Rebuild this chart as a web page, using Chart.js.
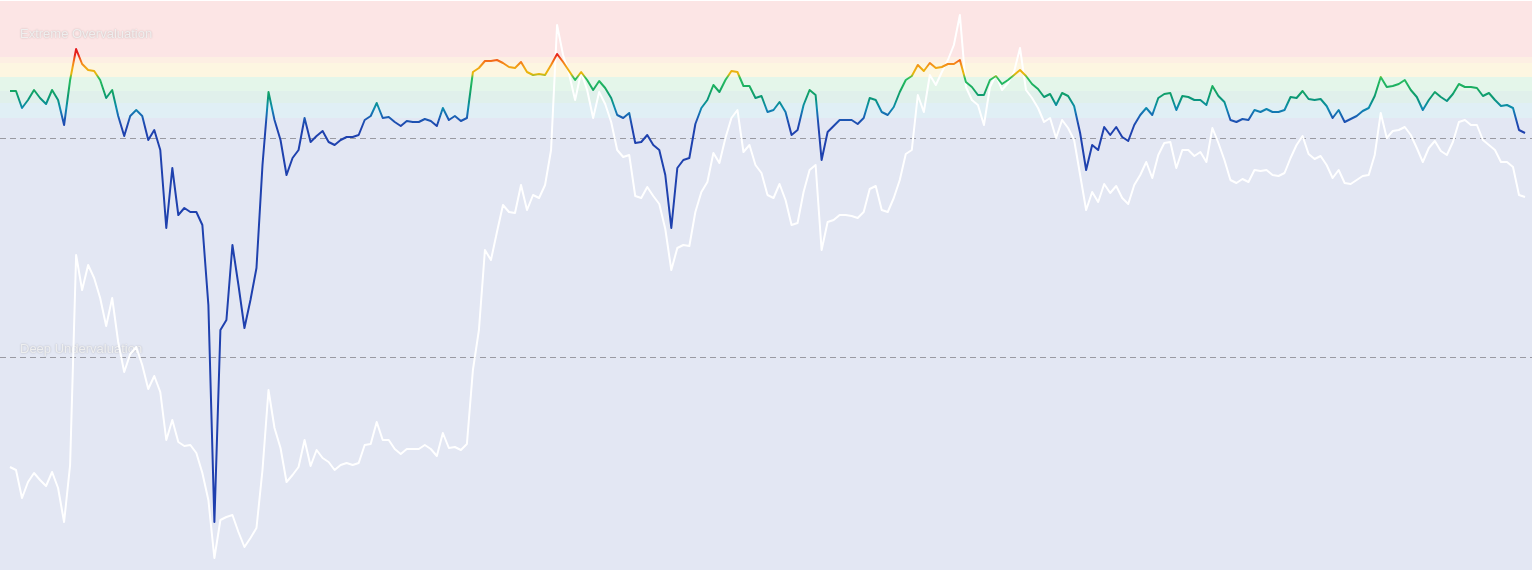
<!DOCTYPE html>
<html>
<head>
<meta charset="utf-8">
<script src="https://cdn.jsdelivr.net/npm/chart.js@4/dist/chart.umd.min.js"></script>
<style>
  html, body { margin: 0; padding: 0; background: #fff; }
  #wrap { width: 1532px; height: 570px; position: relative; }
</style>
</head>
<body>
<div id="wrap"><canvas id="valuationChart"></canvas></div>
<script>
// Valuation score (coloured line), one sample per step
const scoreValues = [
    95.8, 95.8, 92.4, 94.0, 96.0, 94.4, 93.2, 96.0, 94.0, 89.0,
    98.0, 104.2, 101.2, 100.0, 99.8, 98.0, 94.4, 96.0, 90.8, 86.8,
    90.8, 92.0, 90.8, 86.0, 88.0, 84.0, 68.4, 80.4, 71.0, 72.4,
    71.6, 71.6, 69.0, 53.0, 9.6, 48.0, 50.0, 65.0, 57.0, 48.4,
    54.0, 60.4, 81.0, 95.6, 90.0, 86.0, 79.0, 82.4, 84.0, 90.4,
    85.6, 86.8, 87.8, 85.6, 85.0, 86.0, 86.6, 86.6, 87.0, 90.0,
    90.8, 93.4, 90.4, 90.6, 89.6, 88.8, 89.8, 89.6, 89.6, 90.2,
    89.8, 88.8, 92.4, 90.0, 90.8, 89.8, 90.4, 99.6, 100.4, 101.8,
    101.8, 102.0, 101.4, 100.6, 100.4, 101.6, 99.6, 99.0, 99.2, 99.0,
    101.0, 103.2, 101.6, 99.8, 98.0, 99.6, 98.0, 96.0, 97.8, 96.4,
    94.4, 91.0, 90.4, 91.4, 85.4, 85.6, 87.0, 85.0, 84.0, 79.0,
    68.4, 80.4, 82.0, 82.4, 89.2, 92.4, 94.0, 97.0, 95.6, 98.0,
    99.8, 99.6, 96.8, 96.8, 94.4, 94.8, 91.6, 92.0, 93.6, 91.6,
    87.0, 88.0, 93.0, 96.0, 95.0, 82.0, 87.6, 88.8, 90.0, 90.0,
    90.0, 89.2, 90.4, 94.4, 94.0, 91.6, 91.0, 92.6, 95.6, 98.0,
    98.8, 101.0, 99.8, 101.4, 100.4, 100.6, 101.2, 101.2, 102.0, 97.6,
    96.6, 95.0, 95.0, 98.0, 98.8, 97.2, 98.0, 99.0, 100.0, 98.8,
    97.2, 96.2, 94.6, 95.2, 93.0, 95.4, 94.8, 92.8, 87.4, 80.0,
    85.0, 84.0, 88.6, 87.0, 88.6, 86.6, 85.8, 89.0, 91.0, 92.4,
    91.0, 94.4, 95.2, 95.4, 92.0, 94.8, 94.6, 94.0, 94.0, 93.0,
    96.8, 94.8, 93.6, 90.0, 89.6, 90.2, 90.0, 92.0, 91.6, 92.2,
    91.6, 91.6, 92.0, 94.6, 94.4, 95.8, 94.2, 94.0, 94.2, 92.8,
    90.4, 92.0, 89.6, 90.2, 90.8, 91.8, 92.4, 94.8, 98.6, 96.6,
    96.8, 97.2, 98.0, 96.0, 94.6, 92.0, 94.0, 95.6, 94.6, 93.8,
    95.2, 97.2, 96.6, 96.6, 96.4, 94.8, 95.4, 94.0, 92.8, 93.0,
    92.4, 88.0, 87.4
];

// Price (white line), same samples
const priceValues = [
    20.6, 20.0, 14.4, 17.6, 19.4, 18.0, 16.8, 19.6, 16.4, 9.6,
    21.0, 63.0, 56.0, 61.0, 58.4, 54.4, 48.8, 54.4, 45.6, 39.6,
    43.2, 44.6, 41.0, 36.2, 38.8, 35.6, 26.0, 30.0, 25.6, 24.8,
    25.0, 23.4, 19.4, 14.0, 2.4, 10.0, 10.6, 11.0, 7.6, 4.6,
    6.4, 8.4, 20.0, 36.0, 28.4, 24.4, 17.6, 19.0, 20.6, 26.0,
    20.8, 24.0, 22.4, 21.6, 20.0, 21.0, 21.4, 21.0, 21.4, 25.0,
    25.2, 29.6, 26.0, 26.0, 24.2, 23.2, 24.2, 24.2, 24.2, 25.0,
    24.2, 22.8, 27.4, 24.4, 24.6, 24.0, 25.2, 40.0, 48.0, 64.0,
    62.0, 67.6, 73.0, 71.6, 71.4, 77.0, 72.0, 75.0, 74.4, 77.0,
    84.0, 109.0, 103.0, 99.2, 94.0, 99.6, 96.0, 90.4, 95.6, 93.2,
    89.6, 84.0, 82.6, 83.0, 74.8, 74.4, 76.6, 74.8, 73.2, 68.2,
    60.0, 64.4, 65.0, 64.8, 71.6, 75.6, 77.6, 83.4, 81.4, 86.4,
    90.4, 92.0, 83.6, 85.0, 81.0, 79.4, 75.0, 74.4, 77.2, 74.0,
    69.0, 69.4, 75.6, 80.0, 81.0, 64.0, 69.6, 70.0, 71.0, 71.0,
    70.8, 70.4, 71.6, 76.2, 76.8, 72.0, 71.6, 74.4, 78.0, 83.2,
    84.0, 95.0, 91.6, 99.0, 97.0, 99.6, 102.0, 105.0, 111.0, 96.6,
    94.0, 93.0, 89.0, 96.6, 99.0, 96.0, 97.4, 99.6, 104.4, 96.0,
    94.4, 92.4, 89.6, 90.4, 86.4, 90.0, 88.4, 86.0, 79.0, 72.0,
    75.6, 73.6, 77.2, 75.4, 76.8, 74.4, 73.2, 77.0, 79.0, 81.6,
    78.4, 83.0, 85.4, 85.6, 80.4, 84.0, 84.0, 82.8, 83.6, 81.6,
    88.4, 85.4, 82.0, 78.0, 77.4, 78.2, 77.6, 80.0, 79.8, 80.0,
    79.0, 78.8, 79.4, 82.4, 85.0, 86.8, 83.2, 82.2, 82.8, 81.0,
    78.4, 80.0, 77.4, 77.2, 78.0, 78.8, 79.0, 83.0, 91.4, 86.4,
    87.8, 88.0, 88.6, 87.0, 84.4, 81.6, 84.4, 85.8, 83.8, 83.0,
    85.6, 89.6, 90.0, 89.0, 89.0, 86.0, 85.0, 84.0, 81.6, 81.6,
    80.6, 75.0, 74.6
];

// Zone edges (score units, top to bottom) and their fills
const bandEdges = [113.8, 102.6, 101.4, 98.6, 95.8, 93.4, 90.4, 0];
const bandColors = ['#fce5e5', '#fdefe3', '#fdf6e1', '#e4f6ea', '#e0f0eb', '#e0eff5', '#e3e7f3'];

// Threshold lines and zone labels
const thresholdValues = [86.4, 42.6];
const zoneLabels = ['Extreme Overvaluation', 'Deep Undervaluation'];
const zoneLabelValues = [107.2, 44.2];

// Colour ramp of the score line (score -> colour)
const rampValues = [104.0, 103.0, 102.2, 101.4, 100.4, 99.2, 98.4, 96.0, 94.4, 92.4, 90.4, 88.6, 0];
const rampColors = ['#e31a1c', '#e8261c', '#f25a1b', '#f5841a', '#f0a814', '#e8b80a', '#2ac060',
                    '#16a862', '#0a9676', '#0d8cb0', '#1c5cb4', '#1f42ae', '#1f3fae'];

// Build the vertical gradient through the y scale
function scoreGradient(context) {
    const chart = context.chart;
    const area = chart.chartArea;
    if (!area) return '#1f3fae';
    const y = chart.scales.y;
    const g = chart.ctx.createLinearGradient(0, area.top, 0, area.bottom);
    const span = area.bottom - area.top;
    rampValues.forEach((v, i) => {
        const p = (y.getPixelForValue(v) - area.top) / span;
        g.addColorStop(Math.min(1, Math.max(0, p)), rampColors[i]);
    });
    return g;
}

// Background zones, dashed thresholds, labels
const zonePlugin = {
    id: 'zones',
    beforeDatasetsDraw(chart) {
        const { ctx, chartArea: a, scales: { y } } = chart;
        ctx.save();
        for (let i = 0; i < bandColors.length; i++) {
            const top = y.getPixelForValue(bandEdges[i]);
            const bot = y.getPixelForValue(bandEdges[i + 1]);
            ctx.fillStyle = bandColors[i];
            ctx.fillRect(a.left, top, a.right - a.left, bot - top);
        }

        ctx.setLineDash([6, 4]);
        ctx.strokeStyle = '#9a9aa2';
        ctx.lineWidth = 1;
        thresholdValues.forEach(v => {
            const py = Math.round(y.getPixelForValue(v)) + 0.5;
            ctx.beginPath();
            ctx.moveTo(a.left, py);
            ctx.lineTo(a.right, py);
            ctx.stroke();
        });
        ctx.setLineDash([]);

        ctx.font = '13px "Liberation Sans", Arial, sans-serif';
        ctx.textBaseline = 'middle';
        ctx.fillStyle = 'rgba(240,240,240,0.95)';
        ctx.shadowColor = 'rgba(0,0,0,0.25)';
        ctx.shadowBlur = 2;
        zoneLabels.forEach((t, i) => {
            ctx.fillText(t, a.left + 20, y.getPixelForValue(zoneLabelValues[i]));
        });
        ctx.restore();
    }
};

const ctx = document.getElementById('valuationChart').getContext('2d');
new Chart(ctx, {
    type: 'line',
    data: {
        datasets: [{
            label: 'Valuation score',
            data: scoreValues.map((v, i) => ({ x: i, y: v })),
            borderColor: scoreGradient,
            borderWidth: 2,
            pointRadius: 0,
            tension: 0
        }, {
            label: 'Price',
            data: priceValues.map((v, i) => ({ x: i, y: v })),
            borderColor: '#ffffff',
            borderWidth: 2,
            pointRadius: 0,
            tension: 0
        }]
    },
    options: {
        responsive: true,
        maintainAspectRatio: false,
        animation: false,
        devicePixelRatio: 1,
        layout: { padding: 0 },
        elements: { line: { borderJoinStyle: 'round' } },
        scales: {
            x: { type: 'linear', display: false, min: -1.66, max: 253.16 },
            y: { display: false, min: 0, max: 114 }
        },
        plugins: {
            legend: { display: false },
            tooltip: { enabled: false }
        }
    },
    plugins: [zonePlugin]
});
</script>
</body>
</html>
